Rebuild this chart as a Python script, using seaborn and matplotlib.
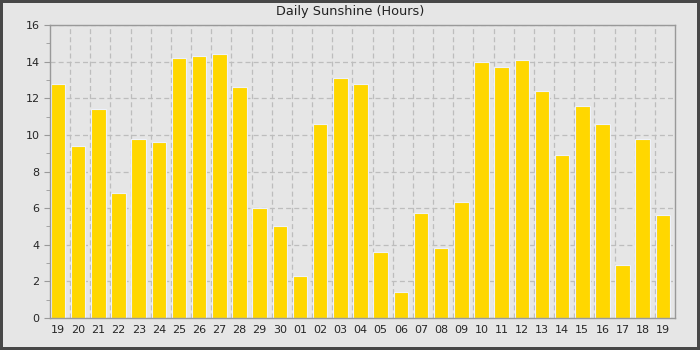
import numpy as np
import pandas as pd
import seaborn as sns
import matplotlib.pyplot as plt
from matplotlib.ticker import MultipleLocator, FixedLocator

# === DATA ===
day_labels = ["19", "20", "21", "22", "23", "24", "25", "26", "27", "28", "29", "30",
              "01", "02", "03", "04", "05", "06", "07", "08", "09", "10", "11", "12",
              "13", "14", "15", "16", "17", "18", "19"]
sunshine_hours = [12.8, 9.4, 11.4, 6.8, 9.8, 9.6, 14.2, 14.3, 14.4, 12.6, 6.0, 5.0,
                  2.3, 10.6, 13.1, 12.8, 3.6, 1.4, 5.75, 3.8, 6.35, 14.0, 13.7, 14.1,
                  12.4, 8.9, 11.6, 10.6, 2.9, 9.8, 5.6]
title = "Daily Sunshine (Hours)"

BG = "#e6e6e6"
SPINE = "#999999"
GRID = "#bdbdbd"

df = pd.DataFrame({"pos": np.arange(len(day_labels)), "hours": sunshine_hours})
n = len(day_labels)

sns.set_style("white")
plt.rcParams["font.family"] = ["DejaVu Sans"]

fig = plt.figure(figsize=(7, 3.5), dpi=100)
fig.patch.set_facecolor(BG)
fig.patch.set_edgecolor("#474747")
fig.patch.set_linewidth(3)
ax = fig.add_axes([50 / 700, 32 / 350, 625 / 700, 293 / 350])
ax.set_facecolor(BG)

sns.barplot(data=df, x="pos", y="hours", color="#ffd700", saturation=1,
            width=0.72, edgecolor="#eef2fb", linewidth=0.8, ax=ax)

# bars sit towards the left of each slot, slot borders carry the dashed grid
ax.set_xlim(-0.4, n - 0.4)
ax.set_ylim(0, 16)
ax.set_xticks(range(n))
ax.set_xticklabels(day_labels)
ax.xaxis.set_minor_locator(FixedLocator(np.arange(0.6, n - 1, 1)))
ax.yaxis.set_major_locator(MultipleLocator(2))
ax.yaxis.set_minor_locator(MultipleLocator(1))

ax.set_axisbelow(True)
ax.grid(False)
ax.grid(True, axis="y", which="major", color=GRID, linestyle=(0, (4, 2.5)), linewidth=0.9)
ax.grid(True, axis="x", which="minor", color=GRID, linestyle=(0, (4, 2.5)), linewidth=0.9)

ax.tick_params(axis="y", which="major", length=4, color=SPINE, labelsize=8, left=True)
ax.tick_params(axis="y", which="minor", length=3, color=SPINE, left=True)
ax.tick_params(axis="x", which="major", length=0, labelsize=8, pad=5)
ax.tick_params(axis="x", which="minor", length=0)

for sp in ax.spines.values():
    sp.set_color(SPINE)
    sp.set_linewidth(1)

ax.set_xlabel("")
ax.set_ylabel("")
fig.text(0.5, 1 - 12 / 350, title, ha="center", va="center", fontsize=9.3, color="#222222")

fig.savefig("out.png", dpi=100, facecolor=fig.get_facecolor(), edgecolor=fig.get_edgecolor())
